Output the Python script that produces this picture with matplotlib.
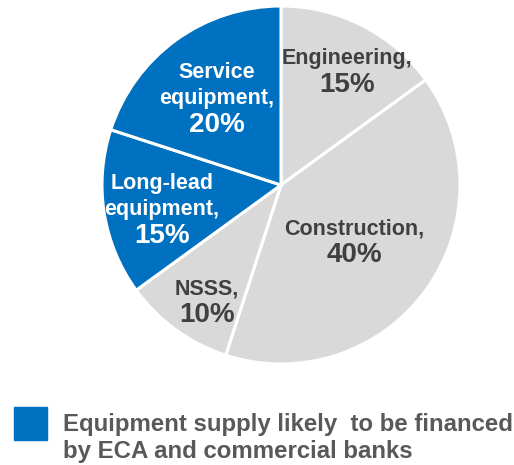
import matplotlib.pyplot as plt
from matplotlib.patches import Rectangle

plt.rcParams['font.family'] = ['Liberation Sans', 'DejaVu Sans']

# data
names = ['Engineering,', 'Construction,', 'NSSS,', 'Long-lead\nequipment,', 'Service\nequipment,']
shares = [15, 40, 10, 15, 20]
financed = [False, False, False, True, True]
legend_text = 'Equipment supply likely  to be financed\nby ECA and commercial banks'

blue = '#0070C0'
grey = '#D9D9D9'
colors = [blue if f else grey for f in financed]
txt_colors = ['white' if f else '#404040' for f in financed]

fig = plt.figure(figsize=(5.14, 4.65), dpi=100)
R = 179
ax = fig.add_axes([(281 - R) / 514, (465 - 185 - R) / 465, 2 * R / 514, 2 * R / 465])
ax.pie(shares, colors=colors, startangle=90, counterclock=False,
       wedgeprops=dict(edgecolor='white', linewidth=2.2))
ax.set_xlim(-1, 1)
ax.set_ylim(-1, 1)

# centre of the percentage line of each label
pct_xy = [(0.369, 0.558), (0.408, -0.391), (-0.413, -0.726), (-0.665, -0.285), (-0.358, 0.335)]
for name, v, (x, y), c in zip(names, shares, pct_xy, txt_colors):
    ax.text(x, y + 0.088, name, ha='center', va='bottom', fontsize=15.5, fontweight='bold',
            color=c, linespacing=1.3)
    ax.text(x, y, f'{v}%', ha='center', va='center', fontsize=20, fontweight='bold',
            color=c)

# legend
fig.patches.append(Rectangle((14 / 514, 1 - 440 / 465), 33 / 514, 33 / 465,
                             transform=fig.transFigure, color=blue))
fig.text(63 / 514, 1 - 438 / 465, legend_text, ha='left', va='center', fontsize=17.3,
         fontweight='bold', color='#595959', linespacing=1.2)

fig.savefig('out.png', dpi=100)
